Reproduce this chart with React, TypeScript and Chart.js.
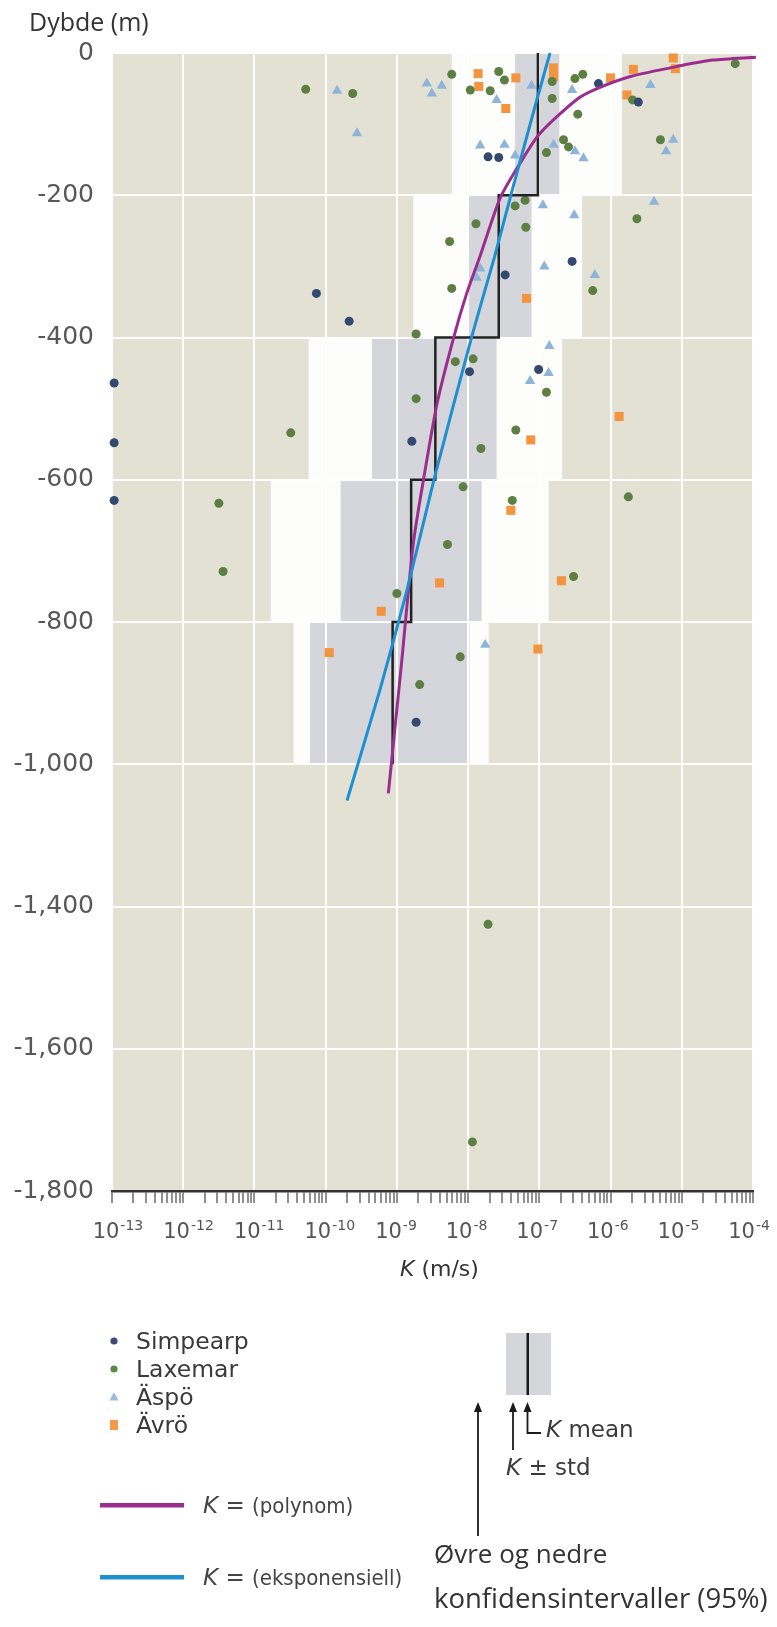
import React, { useEffect, useRef } from 'react';
import { Chart, registerables } from 'chart.js';

Chart.register(...registerables);

// ---------- axis definitions ----------
const xTickExps = [-13, -12, -11, -10, -9, -8, -7, -6, -5, -4];
const yTickDepths = [0, -200, -400, -600, -800, -1000, -1400, -1600, -1800];
const yTickLabels = ['0', '-200', '-400', '-600', '-800', '-1,000', '-1,400', '-1,600', '-1,800'];

// ---------- depth bands: confidence interval (white), K ± std (grey), K mean (black) ----------
const bandTop = [0, -200, -400, -600, -800];
const bandBottom = [-200, -400, -600, -800, -1000];
const ciLowExp = [-8.23, -8.77, -10.24, -10.77, -10.45];
const ciHighExp = [-5.84, -6.40, -6.68, -6.87, -7.71];
const stdLowExp = [-7.34, -8.0, -9.35, -9.79, -10.22];
const stdHighExp = [-6.72, -7.11, -7.6, -7.81, -7.98];
const meanExp = [-7.02, -7.57, -8.46, -8.80, -9.06];

// ---------- measurements (log10 K, depth m) ----------
const simpearpLogK = [-6.17, -5.61, -7.72, -7.57, -10.13, -9.67, -6.54, -7.48, -12.97, -7.98, -7.01, -8.79, -12.97, -12.97, -8.73];
const simpearpDepth = [-43, -69, -146, -147, -338, -377, -293, -312, -464, -448, -445, -546, -548, -629, -941];

const laxemarLogK = [
  -10.28, -9.62, -8.23, -7.97, -7.69, -7.57, -7.49, -6.82, -6.82, -6.50, -6.39, -6.46, -5.69, -4.25, -5.30, -6.90, -6.66, -6.59,
  -7.34, -7.20, -7.19, -7.89, -8.26, -5.63, -8.23, -6.25, -8.73,
  -8.18, -7.93, -6.90, -8.73, -7.33, -7.82, -10.49,
  -8.07, -7.38, -5.75, -8.29, -6.52, -9.00, -11.50, -11.44,
  -8.11, -8.68, -7.72, -7.94,
];
const laxemarDepth = [
  -51, -57, -30, -52, -53, -26, -38, -40, -64, -36, -30, -86, -66, -15, -122, -140, -122, -132,
  -215, -207, -245, -240, -265, -233, -331, -334, -395,
  -434, -430, -477, -486, -530, -556, -534,
  -610, -629, -624, -691, -736, -760, -633, -729,
  -849, -888, -1425, -1731,
];

const aspoLogK = [-9.84, -9.56, -8.58, -8.51, -8.37, -7.60, -7.11, -6.54, -5.44, -7.83, -7.49, -7.34, -6.80, -6.50, -6.38, -5.12, -5.22, -6.95, -6.51, -5.39, -6.93, -7.83, -7.88, -6.22, -6.86, -6.87, -7.13, -7.76];
const aspoDepth = [-53, -113, -43, -57, -46, -66, -46, -52, -45, -130, -129, -144, -129, -138, -148, -122, -138, -214, -228, -209, -300, -303, -316, -312, -412, -450, -461, -832];

const avroLogK = [-7.86, -7.85, -7.33, -7.47, -6.80, -6.80, -6.00, -5.68, -5.77, -5.12, -5.09, -7.18, -7.12, -5.88, -7.40, -8.40, -6.69, -9.22, -9.95, -7.02];
const avroDepth = [-29, -47, -35, -78, -21, -33, -35, -23, -59, -7, -22, -345, -544, -511, -643, -745, -742, -785, -843, -838];

// ---------- fitted curves ----------
const polyLogK = [-3.96, -4.56, -5.02, -5.72, -6.19, -6.47, -6.99, -7.27, -7.55, -7.83, -8.02, -8.20, -8.43, -8.62, -8.77, -8.94, -9.12];
const polyDepth = [-6, -10, -18, -33, -50, -65, -113, -155, -204, -285, -338, -399, -490, -596, -690, -863, -1082];

const expLogK = [-6.85, -7.03, -7.40, -7.63, -7.95, -8.47, -8.86, -9.24, -9.70];
const expDepth = [0, -64, -200, -287, -399, -596, -756, -896, -1102];

// ---------- helpers ----------
// the depth axis is broken between -1000 and -1400 (that interval takes half the space)
function toAxis(d: number): number {
  if (d >= -1000) return d;
  if (d >= -1400) return -1000 + (d + 1000) / 2;
  return d + 200;
}
const pts = (lk: number[], dp: number[]) => lk.map((v, i) => ({ x: Math.pow(10, v), y: toAxis(dp[i]) }));

function meanStepPoints() {
  const out: { x: number; y: number }[] = [];
  meanExp.forEach((e, i) => {
    out.push({ x: Math.pow(10, e), y: toAxis(bandTop[i]) });
    out.push({ x: Math.pow(10, e), y: toAxis(bandBottom[i]) });
  });
  return out;
}

function xTickList() {
  const t: { value: number; major: boolean }[] = [];
  for (let e = xTickExps[0]; e < xTickExps[xTickExps.length - 1]; e++) {
    for (let m = 1; m <= 9; m++) t.push({ value: m * Math.pow(10, e), major: m === 1 });
  }
  t.push({ value: Math.pow(10, xTickExps[xTickExps.length - 1]), major: true });
  return t;
}
const isDecade = (v: number | undefined) => {
  if (!v) return false;
  const l = Math.log10(v);
  return Math.abs(l - Math.round(l)) < 1e-6;
};

const BG = '#e3e1d4';
const CI_COLOR = '#fdfdfc';
const STD_COLOR = '#d5d5dc';

const backgroundPlugin = {
  id: 'bandBackground',
  beforeDraw(chart: any) {
    const { ctx, chartArea: a, scales } = chart;
    const x = scales.x;
    const y = scales.y;
    ctx.save();
    ctx.fillStyle = BG;
    ctx.fillRect(a.left, a.top, a.right - a.left, a.bottom - a.top);
    bandTop.forEach((t, i) => {
      const y0 = y.getPixelForValue(toAxis(t));
      const y1 = y.getPixelForValue(toAxis(bandBottom[i]));
      const c0 = x.getPixelForValue(Math.pow(10, ciLowExp[i]));
      const c1 = x.getPixelForValue(Math.pow(10, ciHighExp[i]));
      ctx.fillStyle = CI_COLOR;
      ctx.fillRect(c0, y0, c1 - c0, y1 - y0);
      const s0 = x.getPixelForValue(Math.pow(10, stdLowExp[i]));
      const s1 = x.getPixelForValue(Math.pow(10, stdHighExp[i]));
      ctx.fillStyle = STD_COLOR;
      ctx.fillRect(s0, y0, s1 - s0, y1 - y0);
    });
    ctx.restore();
  },
};

const xLabelPlugin = {
  id: 'powerLabels',
  afterDraw(chart: any) {
    const { ctx, chartArea: a, scales } = chart;
    const x = scales.x;
    ctx.save();
    ctx.fillStyle = '#555';
    ctx.textAlign = 'left';
    ctx.textBaseline = 'alphabetic';
    xTickExps.forEach((e, i) => {
      const px = x.getPixelForValue(Math.pow(10, e));
      ctx.font = '21px "DejaVu Sans"';
      const w = ctx.measureText('10').width;
      const left = px - w / 2 - 6 - 0.6 * i;
      ctx.fillText('10', left, a.bottom + 47);
      ctx.font = '14px "DejaVu Sans"';
      ctx.fillText(String(e), left + w + 1, a.bottom + 39);
    });
    ctx.restore();
  },
};

const DJ = '"DejaVu Sans", "Liberation Sans", sans-serif';
const OS = '"Open Sans", "Noto Sans", sans-serif';
const NARROW = '"Liberation Sans Narrow", "DejaVu Sans Condensed", "Liberation Sans", sans-serif';

function Txt(props: { x: number; base: number; size: number; family: string; k: number; color?: string; children: any }) {
  const { x, base, size, family, k, color, children } = props;
  return (
    <div
      style={{
        position: 'absolute',
        left: x,
        top: base - k * size,
        fontSize: size,
        fontFamily: family,
        lineHeight: 1,
        whiteSpace: 'nowrap',
        color: color || '#333',
      }}
    >
      {children}
    </div>
  );
}

export default function App() {
  const ref = useRef<HTMLCanvasElement>(null);

  useEffect(() => {
    if (!ref.current) return;
    const pointDs = (label: string, lk: number[], dp: number[], color: string, style: string, r: number) => ({
      label,
      data: pts(lk, dp),
      backgroundColor: color,
      borderColor: color,
      pointStyle: style,
      pointRadius: r,
      pointBorderWidth: 0,
      showLine: false,
      clip: false,
      order: 5,
    });
    const chart = new Chart(ref.current, {
      type: 'scatter',
      data: {
        datasets: [
          pointDs('Simpearp', simpearpLogK, simpearpDepth, '#34496f', 'circle', 4.5),
          pointDs('Laxemar', laxemarLogK, laxemarDepth, '#5d7f43', 'circle', 4.5),
          pointDs('Äspö', aspoLogK, aspoDepth, '#8fb4da', 'triangle', 6),
          pointDs('Ävrö', avroLogK, avroDepth, '#f3953f', 'rect', 6.4),
          {
            label: 'K mean',
            data: meanStepPoints(),
            showLine: true,
            borderColor: '#222',
            borderWidth: 2.5,
            pointRadius: 0,
            tension: 0,
            order: 3,
          } as any,
          {
            label: 'K (polynom)',
            data: pts(polyLogK, polyDepth),
            showLine: true,
            borderColor: '#9b2d8e',
            borderWidth: 3,
            pointRadius: 0,
            tension: 0.25,
            clip: false,
            order: 2,
          } as any,
          {
            label: 'K (eksponensiell)',
            data: pts(expLogK, expDepth),
            showLine: true,
            borderColor: '#1e90d0',
            borderWidth: 3,
            pointRadius: 0,
            tension: 0.2,
            clip: false,
            order: 1,
          } as any,
        ],
      },
      options: {
        responsive: false,
        maintainAspectRatio: false,
        animation: false,
        devicePixelRatio: 1,
        layout: { padding: { top: 53, right: 24, left: 0, bottom: 0 } },
        plugins: { legend: { display: false }, tooltip: { enabled: false } },
        scales: {
          x: {
            type: 'logarithmic',
            min: Math.pow(10, xTickExps[0]),
            max: Math.pow(10, xTickExps[xTickExps.length - 1]),
            afterBuildTicks: (s: any) => {
              s.ticks = xTickList();
            },
            afterFit: (s: any) => {
              s.height = 89;
            },
            ticks: {
              autoSkip: false,
              maxRotation: 0,
              minRotation: 0,
              callback: () => '',
            },
            grid: {
              color: (c: any) => (isDecade(c.tick && c.tick.value) ? 'rgba(255,255,255,0.95)' : 'rgba(0,0,0,0)'),
              lineWidth: 2,
              drawTicks: true,
              tickLength: 12,
              tickColor: '#555',
              tickWidth: 1.3,
            },
            border: { display: true, color: '#333', width: 2.5 },
          },
          y: {
            type: 'linear',
            min: toAxis(yTickDepths[yTickDepths.length - 1]),
            max: 0,
            afterBuildTicks: (s: any) => {
              s.ticks = yTickDepths.map((d) => ({ value: toAxis(d) }));
            },
            afterFit: (s: any) => {
              s.width = 112;
            },
            ticks: {
              callback: (_v: any, i: number) => yTickLabels[i],
              font: { family: 'DejaVu Sans', size: 25 },
              color: '#585858',
              padding: 18,
            },
            grid: { color: 'rgba(255,255,255,0.95)', lineWidth: 2, drawTicks: false },
            border: { display: false },
          },
        },
      } as any,
      plugins: [backgroundPlugin, xLabelPlugin],
    } as any);
    return () => chart.destroy();
  }, []);

  const rows = [
    { name: 'Simpearp', y: 1341 },
    { name: 'Laxemar', y: 1369 },
    { name: 'Äspö', y: 1397 },
    { name: 'Ävrö', y: 1425 },
  ];

  return (
    <div style={{ position: 'absolute', left: 0, top: 0, width: 777, height: 1627, background: '#fff', overflow: 'hidden' }}>
      <canvas ref={ref} width={777} height={1280} style={{ position: 'absolute', left: 0, top: 0, width: 777, height: 1280 }} />

      <Txt x={29} base={31} size={25} family={OS} k={0.888} color="#333">Dybde (m)</Txt>

      <Txt x={400} base={1277} size={22} family={DJ} k={0.846} color="#333">
        <span style={{ fontStyle: 'italic' }}>K</span> (m/s)
      </Txt>

      <svg width={777} height={1627} style={{ position: 'absolute', left: 0, top: 0, pointerEvents: 'none' }}>
        {/* series markers */}
        <circle cx={114} cy={1341} r={3.6} fill="#3b4a7a" />
        <circle cx={114} cy={1369} r={3.6} fill="#5e8a48" />
        <polygon points="114,1392 118.5,1400.5 109.5,1400.5" fill="#9cbde0" />
        <rect x={110} y={1420} width={8} height={10} fill="#f39a4a" />
        {/* fitted curve samples */}
        <rect x={100} y={1503} width={84} height={4.5} fill="#9b2d8e" />
        <rect x={100} y={1575} width={84} height={4.5} fill="#1e90d0" />
        {/* K mean / std / CI explanation */}
        <rect x={506} y={1333} width={45} height={62} fill="#d5d5dc" />
        <rect x={526.5} y={1333} width={2.5} height={62} fill="#1a1a1a" />
        <g stroke="#1a1a1a" strokeWidth={1.8} fill="none">
          <line x1={478} y1={1536} x2={478} y2={1410} />
          <line x1={513} y1={1450} x2={513} y2={1410} />
          <polyline points="527.5,1410 527.5,1433 541,1433" />
        </g>
        <g fill="#1a1a1a">
          <polygon points="478,1402 474,1412 482,1412" />
          <polygon points="513,1402 509,1412 517,1412" />
          <polygon points="527.5,1402 523.5,1412 531.5,1412" />
        </g>
      </svg>

      {rows.map((r) => (
        <Txt key={r.name} x={136} base={r.y + 8.5} size={23.5} family={DJ} k={0.846} color="#3a3a3a">
          {r.name}
        </Txt>
      ))}

      <Txt x={203} base={1513} size={23} family={DJ} k={0.846} color="#444">
        <span style={{ fontStyle: 'italic' }}>K</span> ={' '}
        <span style={{ fontFamily: NARROW, fontSize: 22 }}>(polynom)</span>
      </Txt>
      <Txt x={203} base={1585} size={23} family={DJ} k={0.846} color="#444">
        <span style={{ fontStyle: 'italic' }}>K</span> ={' '}
        <span style={{ fontFamily: NARROW, fontSize: 22 }}>(eksponensiell)</span>
      </Txt>

      <Txt x={546} base={1437} size={23} family={DJ} k={0.846} color="#3a3a3a">
        <span style={{ fontStyle: 'italic' }}>K</span> mean
      </Txt>
      <Txt x={506} base={1475} size={23} family={DJ} k={0.846} color="#3a3a3a">
        <span style={{ fontStyle: 'italic' }}>K</span> ± std
      </Txt>

      <Txt x={434} base={1563} size={26} family={OS} k={0.888} color="#333">Øvre og nedre</Txt>
      <Txt x={434} base={1608} size={27.5} family={OS} k={0.888} color="#333">konfidensintervaller (95%)</Txt>
    </div>
  );
}
